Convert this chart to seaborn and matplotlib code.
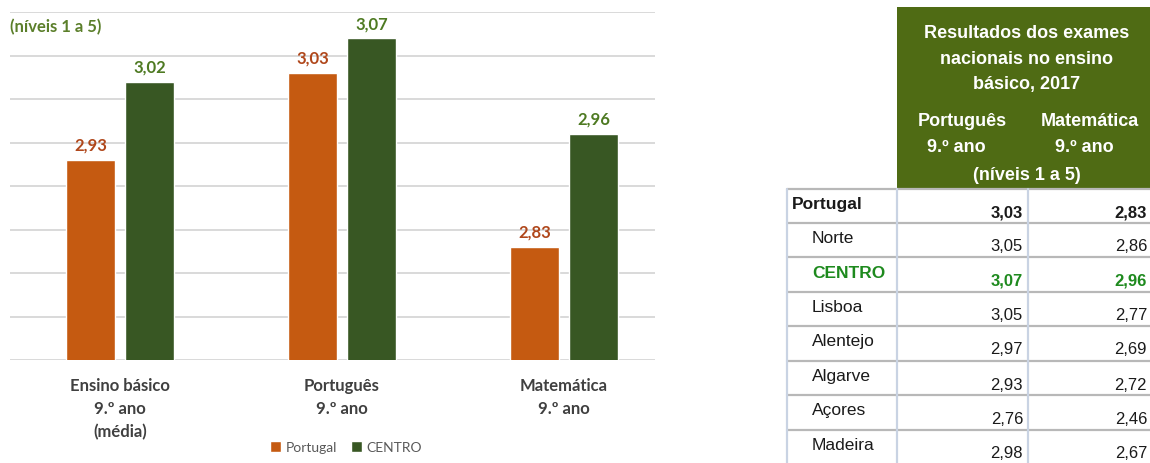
import numpy as np
import pandas as pd
import matplotlib
matplotlib.use("Agg")
import matplotlib.pyplot as plt
import seaborn as sns
from matplotlib.patches import Rectangle

# ---- data ----
categories = ["Ensino básico\n9.º ano\n(média)", "Português\n9.º ano", "Matemática\n9.º ano"]
series_names = ["Portugal", "CENTRO"]
portugal = [2.93, 3.03, 2.83]
centro = [3.02, 3.07, 2.96]

table_title = "Resultados dos exames\nnacionais no ensino\nbásico, 2017"
col_heads = ["Português\n9.º ano", "Matemática\n9.º ano"]
col_note = "(níveis 1 a 5)"
regions = ["Portugal", "Norte", "CENTRO", "Lisboa", "Alentejo", "Algarve", "Açores", "Madeira"]
pt_vals = [3.03, 3.05, 3.07, 3.05, 2.97, 2.93, 2.76, 2.98]
mat_vals = [2.83, 2.86, 2.96, 2.77, 2.69, 2.72, 2.46, 2.67]

# ---- style ----
sns.set_theme(style="white")
plt.rcParams["font.family"] = ["Lato", "DejaVu Sans"]

W, H = 1150, 464
fig = plt.figure(figsize=(W / 100, H / 100), dpi=100)

def fx(x):
    return x / W

def fy(y):
    return 1 - y / H

ORANGE = "#C55A11"
GREEN = "#385723"

df = pd.DataFrame({
    "cat": categories * 2,
    "serie": [series_names[0]] * 3 + [series_names[1]] * 3,
    "valor": portugal + centro,
})

ax = fig.add_axes([fx(10), fy(361), fx(655) - fx(10), fy(13) - fy(361)])
sns.barplot(data=df, x="cat", y="valor", hue="serie", order=categories,
            hue_order=series_names, palette={"Portugal": ORANGE, "CENTRO": GREEN},
            saturation=1, width=0.53, gap=0.17, ax=ax)

ax.set_ylim(2.7, 3.1)
ax.set_xlim(-0.495, 2.41)
ax.set_yticks(np.arange(2.7, 3.1001, 0.05))
ax.set_yticklabels([])
ax.grid(axis="y", color="#D9D9D9", linewidth=1.4)
ax.set_axisbelow(True)
for s in ax.spines.values():
    s.set_visible(False)
ax.set_xlabel("")
ax.set_ylabel("")
ax.tick_params(axis="x", length=0, pad=12, labelsize=12, labelcolor="#404040")
ax.tick_params(axis="y", length=0)
for lab in ax.get_xticklabels():
    lab.set_fontweight("bold")
    lab.set_linespacing(1.55)
    lab.set_verticalalignment("top")

label_colors = ["#B0471B", "#4E7A22"]
for cont, vals, col in zip(ax.containers, [portugal, centro], label_colors):
    ax.bar_label(cont, labels=[f"{v:.2f}".replace(".", ",") for v in vals],
                 padding=5, color=col, fontsize=12, fontweight="bold")

ax.text(0.0, 1 - 14 / 348, "(níveis 1 a 5)", transform=ax.transAxes,
        ha="left", va="center", fontsize=12, fontweight="bold", color="#5B7F2A")

handles, labels = ax.get_legend_handles_labels()
ax.legend_.remove()
fig.legend(handles, labels, loc="center", bbox_to_anchor=(fx(346), fy(448)),
           bbox_transform=fig.transFigure, ncol=2, frameon=False, fontsize=10,
           handlelength=0.8, handleheight=0.8, handletextpad=0.3,
           columnspacing=1.0, labelcolor="#595959")

# ---- table ----
HEAD_GREEN = "#4F6B14"
fig.patches.append(Rectangle((fx(897), fy(190)), fx(1160) - fx(897), fy(8) - fy(190),
                             transform=fig.transFigure, facecolor=HEAD_GREEN,
                             edgecolor="none", zorder=0))
tfont = ["Liberation Sans", "DejaVu Sans"]
title_lines = table_title.split("\n")
for line, y in zip(title_lines, [33, 59, 84]):
    fig.text(fx(1027), fy(y), line, ha="center", va="center", color="white",
             fontsize=13, fontweight="bold", family=tfont)
for head, xc in zip(col_heads, [962, 1090]):
    l1, l2 = head.split("\n")
    fig.text(fx(xc), fy(122), l1, ha="center", va="center", color="white",
             fontsize=13, fontweight="bold", family=tfont)
    fig.text(fx(xc - 6), fy(148), l2, ha="center", va="center", color="white",
             fontsize=13, fontweight="bold", family=tfont)
fig.text(fx(1027), fy(176), col_note, ha="center", va="center", color="white",
         fontsize=13, fontweight="bold", family=tfont)

row_edges = [190, 224, 258, 293, 327, 362, 396, 431, 466]
col_edges = [787, 897, 1028, 1160]
for y in row_edges:
    fig.add_artist(plt.Line2D([fx(787), fx(1160)], [fy(y), fy(y)],
                              transform=fig.transFigure, color="#B8B8B8", lw=1.6))
for x in col_edges:
    fig.add_artist(plt.Line2D([fx(x), fx(x)], [fy(190), fy(466)],
                              transform=fig.transFigure, color="#C9D3E3", lw=1.6))

for i, (reg, p, m) in enumerate(zip(regions, pt_vals, mat_vals)):
    top = row_edges[i]
    if reg == "Portugal":
        col, wt, xl = "#1A1A1A", "bold", 792
    elif reg == "CENTRO":
        col, wt, xl = "#1E8A1E", "bold", 812
    else:
        col, wt, xl = "#1A1A1A", "normal", 812
    fig.text(fx(xl), fy(top + 15), reg, ha="left", va="center", color=col,
             fontsize=12.5, fontweight=wt, family=tfont)
    fig.text(fx(1023), fy(top + 23), f"{p:.2f}".replace(".", ","), ha="right",
             va="center", color=col, fontsize=12, fontweight=wt, family=tfont)
    fig.text(fx(1147), fy(top + 23), f"{m:.2f}".replace(".", ","), ha="right",
             va="center", color=col, fontsize=12, fontweight=wt, family=tfont)

fig.savefig("out.png", dpi=100)
